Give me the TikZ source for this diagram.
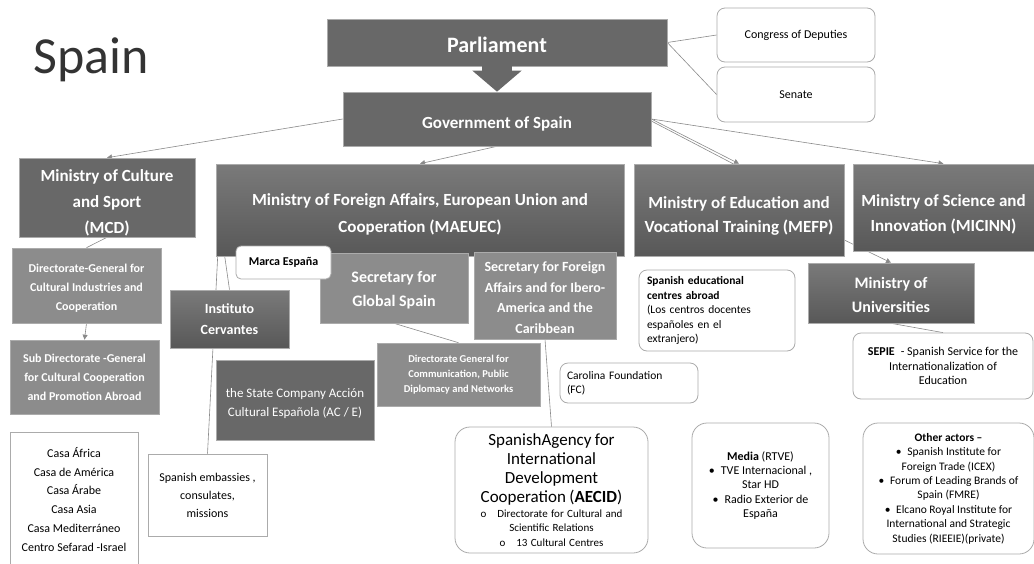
\documentclass[tikz,border=0pt]{standalone}
\usepackage{fontspec}
\setmainfont{Carlito}
\usetikzlibrary{arrows.meta,backgrounds}

\definecolor{boxDark}{HTML}{686868}
\definecolor{boxTop}{HTML}{7A7A7A}
\definecolor{boxBottom}{HTML}{585858}
\definecolor{boxMid}{HTML}{8C8C8C}
\definecolor{edgeGrey}{HTML}{ABABAB}
\definecolor{lineGrey}{HTML}{8A8A8A}
\definecolor{titleGrey}{HTML}{333333}

\newcommand\setsz[2]{\fontsize{#1}{#2}\selectfont}
\newcommand\topgap[1]{\rule{0pt}{#1pt}}

\tikzset{
     darkNode/.style =
        { rectangle
        , draw=edgeGrey
        , line width=0.6pt
        , fill=boxDark
        , text=white
        , align=center
        , inner sep=0pt
        },
     shadedNode/.style =
        { darkNode
        , top color=boxTop
        , bottom color=boxBottom
        },
     midNode/.style =
        { darkNode
        , fill=boxMid
        },
     whiteNode/.style =
        { rectangle
        , draw=edgeGrey
        , line width=0.8pt
        , fill=white
        , text=black
        , align=center
        , inner sep=0pt
        },
     roundNode/.style =
        { whiteNode
        , rounded corners=8pt
        },
     link/.style =
        { draw=lineGrey
        , line width=0.6pt
        },
     arrowLink/.style =
        { link
        , -{Triangle[length=5pt,width=5pt]}
        }
}

\begin{document}
\begin{tikzpicture}
            [ x=1pt
            , y=-1pt
            ]
            \useasboundingbox (0,0) rectangle (1034,563);

            % top of the chart
            \node[text=titleGrey, font=\setsz{52}{60}] (title) at (91,60) {Spain};
            \node[darkNode, minimum width=340pt, minimum height=47pt, font=\bfseries\setsz{22}{26}] (parl) at (497,42.5) {\topgap{19.5}Parliament};
            \node[darkNode, minimum width=308pt, minimum height=54pt, font=\bfseries\setsz{17}{20}] (gov) at (497,119) {\topgap{22}Government of Spain};
            \node[roundNode, minimum width=158pt, minimum height=54pt, font=\setsz{12}{14}] (congress) at (796,35) {Congress of Deputies};
            \node[roundNode, minimum width=158pt, minimum height=55pt, font=\setsz{12}{14}] (senate) at (796,94.5) {Senate};

            % ministries
            \node[darkNode, minimum width=176pt, minimum height=79pt, font=\bfseries\setsz{17}{26}] (mcd) at (107,197.5)
                {\topgap{22}Ministry of Culture\\and Sport\\(MCD)};
            \node[shadedNode, minimum width=408pt, minimum height=92pt, font=\bfseries\setsz{17}{27}] (maeuec) at (420,210)
                {\topgap{20}Ministry of Foreign Affairs, European Union and\\Cooperation (MAEUEC)};
            \node[shadedNode, minimum width=210pt, minimum height=92pt, font=\bfseries\setsz{17}{24}] (mefp) at (739,210)
                {\topgap{24}Ministry of Education and\\Vocational Training (MEFP)};
            \node[shadedNode, minimum width=181pt, minimum height=87pt, font=\bfseries\setsz{17}{25}] (micinn) at (943.5,207.5)
                {\topgap{26}Ministry of Science and\\Innovation (MICINN)};
            \node[shadedNode, minimum width=166pt, minimum height=60pt, font=\bfseries\setsz{16}{24}] (mou) at (891,293)
                {\topgap{15}Ministry of\\Universities};

            % culture branch
            \node[midNode, minimum width=149pt, minimum height=75pt, font=\bfseries\setsz{12}{19}] (dgCult) at (86.5,285.5)
                {\topgap{14.5}Directorate-General for\\Cultural Industries and\\Cooperation};
            \node[midNode, minimum width=149pt, minimum height=74pt, font=\bfseries\setsz{12}{19}] (subDg) at (84.5,377)
                {Sub Directorate -General\\for Cultural Cooperation\\and Promotion Abroad};
            \node[whiteNode, minimum width=128pt, minimum height=134pt, anchor=north, font=\setsz{12}{18.8}] (casa) at (74,432)
                {Casa África\\Casa de  América\\Casa Árabe\\Casa Asia\\Casa Mediterráneo\\Centro Sefarad -Israel};

            % foreign affairs branch
            \node[shadedNode, minimum width=119pt, minimum height=58pt, font=\bfseries\setsz{14}{21}] (ic) at (229.5,319)
                {Instituto\\Cervantes};
            \node[midNode, minimum width=148pt, minimum height=70pt, font=\bfseries\setsz{16}{24}] (sgs) at (394,288)
                {\topgap{15}Secretary for\\Global Spain};
            \node[midNode, minimum width=142pt, minimum height=87pt, font=\bfseries\setsz{14}{20.5}] (sfa) at (545,295.5)
                {\topgap{14}Secretary for Foreign\\Affairs and for Ibero-\\America and the\\Caribbean};
            \node[roundNode, rounded corners=5pt, minimum width=95pt, minimum height=33pt, font=\bfseries\setsz{12}{14}] (marca) at (283.5,262.5) {Marca España};
            \node[midNode, minimum width=163pt, minimum height=63pt, font=\bfseries\setsz{10.5}{15}] (dgComm) at (458.5,374.5)
                {Directorate General for\\Communication, Public\\Diplomacy and Networks};
            \node[darkNode, minimum width=158pt, minimum height=80pt, font=\setsz{13}{19}] (ace) at (295,400)
                {\topgap{17}the State Company Acción\\Cultural Española (AC / E)};
            \node[whiteNode, minimum width=119pt, minimum height=82pt, font=\setsz{12}{18}] (emb) at (207.5,495)
                {Spanish embassies ,\\consulates,\\missions};
            \node[roundNode, rounded corners=15pt, minimum width=193pt, minimum height=126pt, text width=185pt] (aecid) at (551.5,490)
                {\setsz{17}{19}SpanishAgency for\\International\\Development\\Cooperation (\textbf{AECID})\par
                 \setsz{11}{14.5}o\quad Directorate for Cultural and\\Scientific Relations\\o\quad 13 Cultural Centres\par};
            \node[roundNode, minimum width=138pt, minimum height=40pt, text width=124pt, align=left, inner xsep=7pt, font=\setsz{11.5}{14}] (carolina) at (629,383)
                {Carolina Foundation\\(FC)};

            % education branch
            \node[roundNode, minimum height=81pt, text width=140pt, align=left, inner xsep=8pt, font=\setsz{11.5}{14.5}] (spEdu) at (717,310.5)
                {\textbf{Spanish educational}\\\textbf{centres abroad}\\(Los centros docentes\\españoles en el\\extranjero)};
            \node[roundNode, rounded corners=15pt, minimum width=137pt, minimum height=125pt, font=\setsz{12}{14.3}] (media) at (760.5,485.5)
                {\textbf{Media} (RTVE)\\\textbullet\enspace TVE Internacional ,\\Star HD\\\textbullet\enspace Radio Exterior de\\España};
            \node[roundNode, minimum width=180pt, minimum height=66pt, font=\setsz{12}{14.5}] (sepie) at (943,366)
                {\textbf{SEPIE}\enspace- Spanish Service for the\\Internationalization of\\Education};
            \node[roundNode, rounded corners=15pt, minimum width=171pt, minimum height=131pt, font=\setsz{11.5}{14.4}] (others) at (948.5,488.5)
                {\textbf{Other actors –}\\\textbullet\enspace Spanish Institute for\\Foreign Trade (ICEX)\\\textbullet\enspace Forum of Leading Brands of\\Spain (FMRE)\\\textbullet\enspace Elcano Royal Institute for\\International and Strategic\\Studies (RIEEIE)(private)};

            % parliament to government
            \draw[boxDark, line width=30pt, -{Triangle[length=21pt,width=48pt]}] (parl.south) -- (gov.north);

            \begin{scope}[on background layer]
            \draw[link] (parl.east) -- (congress.west);
            \draw[link] (parl.east) -- (senate.west);
            \draw[arrowLink] (gov.west) -- (mcd.north);
            \draw[arrowLink] (gov.south) -- (maeuec.north);
            \draw[link] ([yshift=-2pt]gov.east) -- ([xshift=-6pt]mefp.north);
            \draw[arrowLink] (gov.east) -- (mefp.north);
            \draw[arrowLink] (gov.east) -- (micinn.north);
            \draw[arrowLink] ([yshift=-30pt]mefp.east) -- (mou.north);
            \draw[link] (mou.south) -- (sepie.north);
            \draw[link] (mcd.south) -- (dgCult.north);
            \draw[arrowLink] (dgCult.south) -- (subDg.north);
            \draw[link] ([xshift=9pt]maeuec.south west) -- (ic.north);
            \draw[link] ([xshift=2pt]maeuec.south west) -- (emb.north);
            \draw[link] (sgs.south) -- (dgComm.north);
            \draw[link] (sfa.south) -- (aecid.north);
            \end{scope}
        \end{tikzpicture}
\end{document}
